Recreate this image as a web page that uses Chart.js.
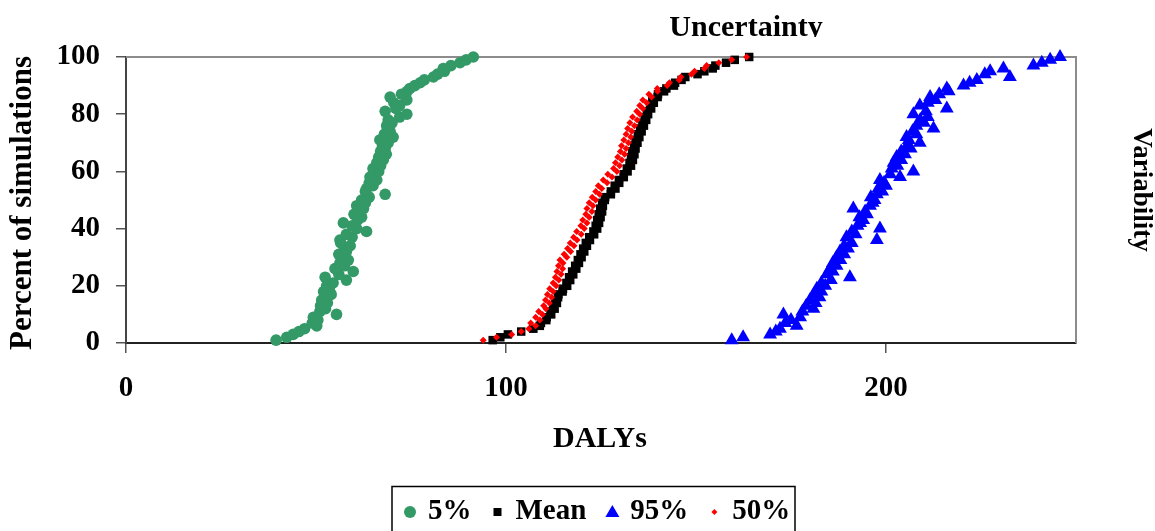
<!DOCTYPE html>
<html>
<head>
<meta charset="utf-8">
<script src="https://cdn.jsdelivr.net/npm/chart.js@4.4.1/dist/chart.umd.min.js"></script>
<style>
  body { margin: 0; background: #fff; }
  #wrap { width: 1155px; height: 531px; position: relative; }
</style>
</head>
<body>
<div id="wrap"><canvas id="myChart"></canvas></div>
<script>
// percent of simulations (y) shared by all series
let percentSim = [1, 2, 3, 4, 5, 6, 7, 8, 9, 10, 11, 12, 13, 14, 15, 16, 17, 18, 19, 20,
  21, 22, 23, 24, 25, 26, 27, 28, 29, 30, 31, 32, 33, 34, 35, 36, 37, 38, 39, 40,
  41, 42, 43, 44, 45, 46, 47, 48, 49, 50, 51, 52, 53, 54, 55, 56, 57, 58, 59, 60,
  61, 62, 63, 64, 65, 66, 67, 68, 69, 70, 71, 72, 73, 74, 75, 76, 77, 78, 79, 80,
  81, 82, 83, 84, 85, 86, 87, 88, 89, 90, 91, 92, 93, 94, 95, 96, 97, 98, 99, 100];

// DALYs, one per percent level
let dalys5 = [39.5, 42.3, 44.0, 45.5, 47.0, 50.2, 49.0, 50.5, 49.3, 55.4,
  51.0, 52.5, 51.2, 53.0, 51.5, 52.4, 54.0, 52.0, 53.5, 52.8,
  54.5, 58.0, 52.4, 56.0, 59.8, 55.0, 57.5, 56.3, 58.5, 57.0,
  56.0, 58.0, 57.5, 59.0, 56.5, 56.3, 59.5, 58.0, 63.3, 60.7,
  59.5, 57.2, 61.0, 62.0, 60.0, 61.5, 62.5, 60.7, 63.0, 62.0,
  64.0, 68.2, 63.0, 63.3, 65.0, 64.0, 66.0, 64.2, 65.5, 66.5,
  65.0, 67.0, 66.0, 67.7, 66.5, 68.5, 67.0, 68.2, 67.5, 69.0,
  66.8, 70.3, 68.0, 69.5, 68.8, 68.6, 70.0, 69.0, 72.0, 73.9,
  68.2, 71.0, 72.0, 70.5, 73.9, 69.5, 72.5, 74.0, 74.7, 76.0,
  77.4, 78.5, 80.9, 82.0, 83.8, 83.5, 85.5, 87.9, 89.5, 91.4];

let dalysMean = [96.5, 98.5, 100.5, 104.0, 107.2, 108.9, 109.2, 110.6, 110.7, 111.9,
  111.7, 112.8, 112.4, 113.4, 112.9, 113.7, 113.8, 114.9, 115.0, 116.1,
  115.9, 116.9, 116.6, 117.7, 117.4, 118.5, 118.2, 119.2, 118.9, 119.9,
  119.6, 120.6, 120.3, 121.3, 121.0, 122.1, 121.9, 123.2, 123.0, 124.0,
  123.6, 124.5, 124.0, 124.9, 124.4, 125.3, 124.8, 125.5, 125.3, 126.0,
  126.1, 127.6, 127.6, 128.8, 128.6, 129.8, 129.7, 131.0, 131.0, 132.0,
  131.8, 132.9, 132.5, 133.4, 132.9, 133.8, 133.2, 134.1, 133.7, 134.6,
  134.1, 135.1, 134.7, 135.7, 135.3, 136.3, 135.9, 136.9, 136.5, 137.4,
  137.1, 138.2, 137.9, 138.9, 138.5, 139.9, 140.0, 141.6, 142.2, 144.2,
  144.5, 146.2, 147.2, 150.4, 152.2, 154.4, 155.1, 157.9, 160.2, 164.0];

let dalys95 = [159.4, 162.4, 169.5, 171.0, 172.1, 176.5, 173.5, 175.0, 177.4, 173.0,
  178.0, 180.9, 179.0, 181.5, 180.0, 182.5, 181.0, 183.0, 181.8, 184.0,
  183.0, 185.5, 190.5, 184.4, 186.0, 185.3, 187.0, 186.0, 188.0, 187.0,
  189.0, 187.9, 190.0, 189.0, 191.0, 197.6, 189.6, 192.0, 191.0, 198.4,
  192.5, 193.2, 194.0, 193.0, 195.0, 194.5, 191.4, 195.8, 196.5, 197.0,
  196.0, 197.6, 199.0, 198.0, 200.0, 199.5, 198.4, 203.7, 201.1, 207.2,
  201.5, 203.0, 202.0, 204.0, 202.8, 205.0, 204.0, 206.5, 205.5, 208.9,
  206.0, 205.4, 208.0, 207.0, 212.5, 208.0, 210.0, 209.0, 211.0, 207.2,
  210.5, 216.0, 208.9, 211.0, 213.0, 211.6, 214.0, 216.5, 216.0, 220.4,
  222.0, 223.9, 232.6, 226.0, 227.4, 230.9, 238.8, 241.0, 243.2, 245.8];

let dalys50 = [94.0, 97.5, 101.5, 104.0, 106.0, 107.8, 106.5, 108.9, 107.8, 109.6,
  108.6, 110.5, 109.9, 111.4, 110.4, 112.0, 110.9, 112.4, 111.5, 113.2,
  112.4, 113.9, 113.0, 114.5, 113.4, 114.9, 113.8, 115.0, 114.2, 116.0,
  115.3, 117.0, 116.2, 117.9, 116.9, 118.7, 117.8, 119.8, 118.6, 120.6,
  119.7, 121.3, 120.2, 121.9, 121.0, 122.6, 121.3, 122.9, 121.9, 123.6,
  122.7, 124.6, 123.6, 125.2, 124.3, 126.6, 125.6, 127.9, 126.8, 129.2,
  128.3, 129.9, 128.8, 130.5, 129.4, 131.2, 130.1, 131.6, 130.4, 132.2,
  131.0, 132.8, 131.6, 133.1, 132.0, 133.8, 132.6, 134.5, 133.3, 135.2,
  134.4, 136.0, 135.2, 137.0, 136.0, 138.3, 137.6, 139.9, 139.8, 142.4,
  143.0, 145.6, 146.0, 148.8, 149.6, 152.2, 152.8, 156.0, 159.4, 163.3];

let seriesNames = ["5%", "Mean", "95%", "50%"];
let xTicks = [0, 100, 200];
let yTicks = [0, 20, 40, 60, 80, 100];

let tituloX = "DALYs";
let tituloY = "Percent of simulations";
let tituloArriba = "Uncertainty";
let tituloDerecha = "Variability";

const fuente = "'Liberation Serif', 'Times New Roman', serif";

function puntos(valores) {
  return valores.map((x, i) => ({ x: x, y: percentSim[i] }));
}

function marcador(ctx, estilo, x, y) {
  ctx.beginPath();
  if (estilo === "circle") {
    ctx.arc(x, y, 6, 0, 2 * Math.PI);
  } else if (estilo === "rect") {
    ctx.rect(x - 4, y - 4, 8, 8);
  } else if (estilo === "triangle") {
    ctx.moveTo(x, y - 7);
    ctx.lineTo(x + 7, y + 5);
    ctx.lineTo(x - 7, y + 5);
    ctx.closePath();
  } else {
    ctx.moveTo(x, y - 3);
    ctx.lineTo(x + 3, y);
    ctx.lineTo(x, y + 3);
    ctx.lineTo(x - 3, y);
    ctx.closePath();
  }
  ctx.fill();
}

// marco gris, titulos y leyenda
const extras = {
  id: "extras",
  beforeDatasetsDraw(chart) {
    const { ctx, chartArea: a } = chart;
    ctx.save();
    ctx.strokeStyle = "#8c8c8c";
    ctx.lineWidth = 2;
    ctx.beginPath();
    ctx.moveTo(a.left, a.top);
    ctx.lineTo(a.right, a.top);
    ctx.lineTo(a.right, a.bottom);
    ctx.stroke();
    ctx.restore();
  },
  afterDraw(chart) {
    const ctx = chart.ctx;
    ctx.save();
    ctx.fillStyle = "#000";
    ctx.textAlign = "center";
    ctx.textBaseline = "middle";

    ctx.font = "bold 30px " + fuente;
    ctx.fillText(tituloX, 600, 439);

    ctx.save();
    ctx.font = "bold 31px " + fuente;
    ctx.translate(23, 203);
    ctx.rotate(-Math.PI / 2);
    ctx.fillText(tituloY, 0, 0);
    ctx.restore();

    ctx.save();
    ctx.beginPath();
    ctx.rect(0, 0, 1155, 37);
    ctx.clip();
    ctx.textBaseline = "alphabetic";
    ctx.fillText(tituloArriba, 746, 36);
    ctx.restore();

    ctx.save();
    ctx.font = "bold 27px " + fuente;
    ctx.translate(1141, 190);
    ctx.rotate(Math.PI / 2);
    ctx.fillText(tituloDerecha, 0, 0);
    ctx.restore();

    // leyenda
    ctx.font = "bold 29px " + fuente;
    ctx.textAlign = "left";
    let x = 402;
    const y = 512;
    chart.data.datasets.forEach((ds) => {
      ctx.fillStyle = ds.backgroundColor;
      marcador(ctx, ds.pointStyle, x + 8, y);
      ctx.fillStyle = "#000";
      ctx.fillText(ds.label, x + 26, y);
      x = x + 26 + ctx.measureText(ds.label).width + 18;
    });
    ctx.strokeStyle = "#000";
    ctx.lineWidth = 1.5;
    ctx.strokeRect(392, 486.5, 403, 60);
    ctx.restore();
  }
};

let myChart = document.querySelector("#myChart");

const datasets = [
  {
    label: seriesNames[0],
    data: puntos(dalys5),
    backgroundColor: "#339966",
    pointStyle: "circle",
    pointRadius: 5.8,
    order: 2
  },
  {
    label: seriesNames[1],
    data: puntos(dalysMean),
    backgroundColor: "#000000",
    pointStyle: "rect",
    pointRadius: 6,
    order: 1
  },
  {
    label: seriesNames[2],
    data: puntos(dalys95),
    backgroundColor: "#0000ff",
    pointStyle: "triangle",
    pointRadius: 8,
    order: 3
  },
  {
    label: seriesNames[3],
    data: puntos(dalys50),
    backgroundColor: "#ff0000",
    pointStyle: "rectRot",
    pointRadius: 3.5,
    order: 0
  }
];

datasets.forEach((ds) => {
  ds.pointBorderWidth = 0;
  ds.borderWidth = 0;
  ds.pointHoverRadius = ds.pointRadius;
  ds.clip = false;
});

const ejeFuente = { family: fuente, size: 29, weight: "bold" };

new Chart(myChart, {
  type: "scatter",
  data: { datasets },
  options: {
    responsive: true,
    maintainAspectRatio: false,
    animation: false,
    layout: { padding: { left: 0, right: 79, top: 57, bottom: 0 } },
    plugins: {
      legend: { display: false },
      tooltip: { enabled: false }
    },
    scales: {
      x: {
        type: "linear",
        min: 0,
        max: 250,
        afterFit: (s) => { s.height = 188; },
        afterBuildTicks: (s) => { s.ticks = xTicks.map((v) => ({ value: v })); },
        ticks: { color: "#000", font: ejeFuente, padding: 18, maxRotation: 0, autoSkip: false },
        grid: { drawOnChartArea: false, drawTicks: true, tickLength: 10, color: "#555", lineWidth: 1.5 },
        border: { display: true, color: "#222", width: 2 }
      },
      y: {
        type: "linear",
        min: 0,
        max: 100,
        afterFit: (s) => { s.width = 126; },
        afterBuildTicks: (s) => { s.ticks = yTicks.map((v) => ({ value: v })); },
        ticks: { color: "#000", font: ejeFuente, padding: 16 },
        grid: { drawOnChartArea: false, drawTicks: true, tickLength: 10, color: "#555", lineWidth: 1.5 },
        border: { display: true, color: "#444", width: 2 }
      }
    }
  },
  plugins: [extras]
});
</script>
</body>
</html>
